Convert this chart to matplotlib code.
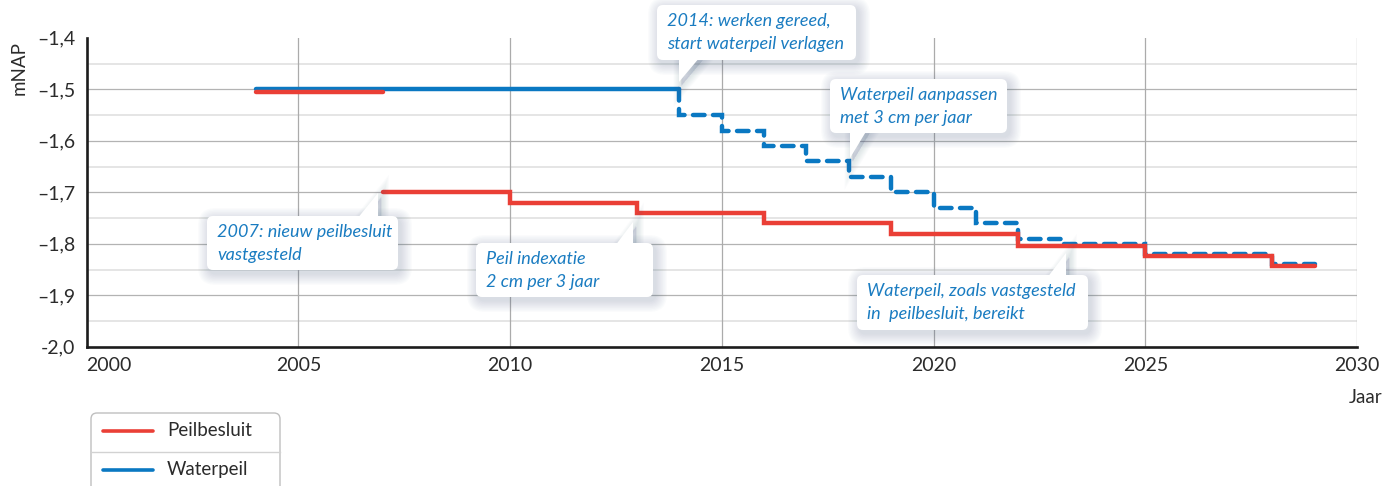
import numpy as np
import matplotlib
matplotlib.use("Agg")
import matplotlib.pyplot as plt
from matplotlib.patches import FancyBboxPatch, Polygon

# ---------------- data ----------------
series_names = ["Peilbesluit", "Waterpeil"]

# Peilbesluit (red): old decision 2004-2007, new decision from 2007 (2 cm per 3 years)
peil_old_years = [2004, 2007]
peil_old_levels = [-1.505, -1.505]
peil_years = [2007, 2010, 2013, 2016, 2019, 2022, 2025, 2028, 2029]
peil_levels = [-1.70, -1.72, -1.74, -1.76, -1.78, -1.804, -1.824, -1.844, -1.844]

# Waterpeil (blue): constant until 2014, then lowered 3 cm per year
water_fixed_years = [2004, 2014]
water_fixed_levels = [-1.50, -1.50]
water_years = [2014, 2014, 2015, 2016, 2017, 2018, 2019, 2020, 2021, 2022, 2023, 2025, 2028, 2029]
water_levels = [-1.50, -1.55, -1.58, -1.61, -1.64, -1.67, -1.70, -1.73, -1.76, -1.79, -1.80, -1.82, -1.84, -1.84]

x_ticks = [2000, 2005, 2010, 2015, 2020, 2025, 2030]
x_labels = ["2000", "2005", "2010", "2015", "2020", "2025", "2030"]
y_ticks = [-2.0, -1.9, -1.8, -1.7, -1.6, -1.5, -1.4]
y_labels = ["-2,0", "\u20131,9", "\u20131,8", "\u20131,7", "\u20131,6", "\u20131,5", "\u20131,4"]
y_minor = [-1.95, -1.85, -1.75, -1.65, -1.55, -1.45]

callout_texts = [
    ["2014: werken gereed,", "start waterpeil verlagen"],
    ["Waterpeil aanpassen", "met 3 cm per jaar"],
    ["2007: nieuw peilbesluit", "vastgesteld"],
    ["Peil indexatie", "2 cm per 3 jaar"],
    ["Waterpeil, zoals vastgesteld", "in  peilbesluit, bereikt"],
]

# ---------------- style ----------------
RED = "#EA3F36"
BLUE = "#0A78C2"
TXT = "#2b2b2b"
CALL = "#1A7CC1"
FONT = "Lato"

W, H = 1397, 486
fig = plt.figure(figsize=(W / 100, H / 100), dpi=100)

L, R, T, B = 86.6, 1357.0, 37.8, 346.8
ax = fig.add_axes([L / W, 1 - B / H, (R - L) / W, (B - T) / H])
ax.set_xlim(2000, 2030)
ax.set_ylim(-2.0, -1.4)

for s in ["top", "right"]:
    ax.spines[s].set_visible(False)
for s in ["left", "bottom"]:
    ax.spines[s].set_color("#1c1c1c")
    ax.spines[s].set_linewidth(1.9)

ax.set_xticks(x_ticks)
ax.set_xticklabels(x_labels, fontfamily=FONT, fontsize=14, color=TXT)
ax.get_xticklabels()[0].set_horizontalalignment("left")
ax.set_yticks(y_ticks)
ax.set_yticklabels(y_labels, fontfamily=FONT, fontsize=14, color=TXT)
ax.tick_params(axis="x", length=0, pad=7)
ax.tick_params(axis="y", length=0, pad=8)

# grid
for yv in y_ticks[1:-1]:
    ax.axhline(yv, color="#b3b3b3", lw=0.9, zorder=0.5)
for yv in y_minor:
    ax.axhline(yv, color="#dedede", lw=1.1, zorder=0.4)
for xv in x_ticks[1:]:
    ax.axvline(xv, color="#ababab", lw=0.9, zorder=0.5)

# lines
lw = 3.2
ax.plot(water_fixed_years, water_fixed_levels, color=BLUE, lw=lw,
        solid_capstyle="round", zorder=3)
ax.step(water_years, water_levels, where="post", color=BLUE, lw=lw,
        linestyle=(0, (2.6, 1.9)), dash_capstyle="round", dash_joinstyle="miter",
        zorder=3)
ax.plot(peil_old_years, peil_old_levels, color=RED, lw=lw,
        solid_capstyle="round", zorder=4)
ax.step(peil_years, peil_levels, where="post", color=RED, lw=lw,
        solid_capstyle="round", solid_joinstyle="miter", zorder=4)

# ---------------- overlay in pixel coordinates ----------------
ov = fig.add_axes([0, 0, 1, 1], zorder=10)
ov.set_xlim(0, W)
ov.set_ylim(H, 0)
ov.axis("off")
ov.patch.set_alpha(0)

# callout geometry (pixels): box (x0, y0, x1, y1), tail triangle
boxes = [
    ((657, 5, 856, 60), [(679, 57), (700, 57), (679, 82)]),
    ((830, 79, 1007, 133), [(850, 130), (867, 130), (850, 158)]),
    ((207, 216, 398, 270), [(357, 219), (378, 219), (378, 193)]),
    ((476, 243, 653, 297), [(615, 246), (633, 246), (633, 222)]),
    ((857, 275, 1088, 330), [(1047, 278), (1066, 278), (1066, 253)]),
]


def draw_callout(box, tail, lines):
    x0, y0, x1, y1 = box
    # soft shadow
    for k in range(9):
        e = 1.0 + k * 1.3
        dx, dy = 2.5, 3.5
        sh = FancyBboxPatch((x0 - e + dx, y0 - e + dy), (x1 - x0) + 2 * e, (y1 - y0) + 2 * e,
                            boxstyle="round,pad=0,rounding_size=%f" % (6 + e),
                            fc="#4d6585", ec="none", alpha=0.022, zorder=1)
        ov.add_patch(sh)
        tp = [(px + dx, py + dy) for px, py in tail]
        ov.add_patch(Polygon(tp, closed=True, fc="#4d6585", ec="#4d6585",
                             lw=e, alpha=0.018, zorder=1))
    ov.add_patch(FancyBboxPatch((x0, y0), x1 - x0, y1 - y0,
                                boxstyle="round,pad=0,rounding_size=6",
                                fc="white", ec="none", zorder=2))
    ov.add_patch(Polygon(tail, closed=True, fc="white", ec="none", zorder=2))
    for i, ln in enumerate(lines):
        ov.text(x0 + 10, y0 + 21 + 23 * i, ln, fontfamily=FONT, style="italic",
                fontsize=13, color=CALL, ha="left", va="baseline", zorder=3)


for (box, tail), lines in zip(boxes, callout_texts):
    draw_callout(box, tail, lines)

# axis titles
ov.text(19, 68, "mNAP", rotation=90, fontfamily=FONT, fontsize=13.5, color=TXT,
        ha="center", va="center")
ov.text(1382, 403, "Jaar", fontfamily=FONT, fontsize=13.5, color=TXT,
        ha="right", va="baseline")

# legend (manual, cut off at the bottom like the reference)
ov.add_patch(FancyBboxPatch((91, 413), 189, 100, boxstyle="round,pad=0,rounding_size=6",
                            fc="white", ec="#bfbfbf", lw=1.0, zorder=2, clip_on=True))
ov.plot([91, 280], [452, 452], color="#d2d2d2", lw=1.0, zorder=3)
for i, (name, col) in enumerate(zip(series_names, [RED, BLUE])):
    yc = 431 + 39 * i
    ov.plot([103, 153], [yc, yc], color=col, lw=2.6, solid_capstyle="round", zorder=3)
    ov.text(167, yc + 5, name, fontfamily=FONT, fontsize=13.5, color=TXT,
            ha="left", va="baseline", zorder=3)

fig.savefig("out.png", dpi=100)
